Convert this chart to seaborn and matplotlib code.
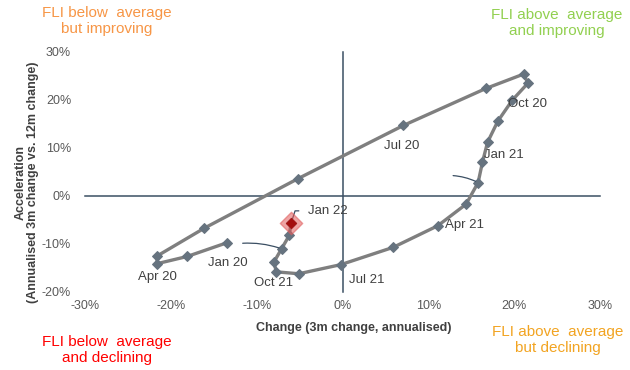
import seaborn as sns
import matplotlib.pyplot as plt
import matplotlib.ticker as ticker
import pandas as pd

months = ['Jan 20', 'Feb 20', 'Mar 20', 'Apr 20', 'May 20', 'Jun 20', 'Jul 20', 'Aug 20',
          'Sep 20', 'Oct 20', 'Nov 20', 'Dec 20', 'Jan 21', 'Feb 21', 'Mar 21', 'Apr 21',
          'May 21', 'Jun 21', 'Jul 21', 'Aug 21', 'Sep 21', 'Oct 21', 'Nov 21', 'Dec 21', 'Jan 22']
change = [-13.4, -18.1, -21.6, -21.6, -16.1, -5.2, 7.1, 16.7, 21.1, 21.6, 19.8, 18.1, 16.9,
          16.3, 15.8, 14.4, 11.1, 5.9, -0.2, -5.1, -7.7, -8.0, -7.1, -6.2, -6.0]
accel = [-9.7, -12.6, -14.1, -12.5, -6.7, 3.6, 14.7, 22.4, 25.4, 23.5, 20.0, 15.6, 11.2,
         7.0, 2.8, -1.7, -6.2, -10.7, -14.3, -16.2, -15.8, -13.8, -11.0, -8.2, -5.7]

x_ticks = [-30, -20, -10, 0, 10, 20, 30]
y_ticks = [-20, -10, 0, 10, 20, 30]

# labelled months and their label offsets (points)
label_offsets = {
    'Jan 20': (0, -15), 'Apr 20': (0, -15), 'Jul 20': (-1, -15), 'Oct 20': (0, -15),
    'Jan 21': (12, -9), 'Apr 21': (-1, -15), 'Jul 21': (19, -11), 'Oct 21': (0, -15),
}

data = pd.DataFrame({'month': months, 'change': change, 'accel': accel})

sns.set_style("white")
plt.rcParams['font.family'] = ['Liberation Sans', 'DejaVu Sans']

axis_col = '#3b4f63'
text_col = '#404040'

fig = plt.figure(figsize=(6.3, 3.7), dpi=100)
ax = fig.add_axes([85 / 630, 78 / 370, 515 / 630, 240 / 370])

sns.lineplot(data=data, x='change', y='accel', sort=False, estimator=None, ax=ax,
             color='#7f7f7f', linewidth=2.4, marker='D', markersize=5.5,
             markerfacecolor='#66737f', markeredgecolor='#66737f', zorder=3)

last = data.iloc[[-1]]
sns.scatterplot(data=last, x='change', y='accel', marker='D', s=130, color='#e05a5a',
                alpha=0.55, edgecolor='#e05a5a', linewidth=1, ax=ax, zorder=4)
sns.scatterplot(data=last, x='change', y='accel', marker='D', s=30, color='#a30f0f',
                edgecolor='#a30f0f', ax=ax, zorder=5)

ax.set_xlim(-30, 30)
ax.set_ylim(-20, 30)
ax.set_xlabel("")
ax.set_ylabel("")

# cross axes through the origin
for s in ['top', 'right']:
    ax.spines[s].set_visible(False)
for s in ['left', 'bottom']:
    ax.spines[s].set_position(('data', 0))
    ax.spines[s].set_color(axis_col)
    ax.spines[s].set_linewidth(1.1)
ax.set_xticks(x_ticks)
ax.set_yticks(y_ticks)
ax.tick_params(direction='out', length=4, width=1, color=axis_col,
               labelleft=False, labelbottom=False)

# tick labels along the outer edges
fmt = ticker.FuncFormatter(lambda v, p: "{:.0f}%".format(v))
sec_x = ax.secondary_xaxis('bottom')
sec_x.set_xticks(x_ticks)
sec_x.xaxis.set_major_formatter(fmt)
sec_x.tick_params(length=0, pad=6, labelsize=9, labelcolor='#595959')
sec_x.spines['bottom'].set_visible(False)
sec_y = ax.secondary_yaxis('left')
sec_y.set_yticks(y_ticks)
sec_y.yaxis.set_major_formatter(fmt)
sec_y.tick_params(length=0, pad=10, labelsize=9, labelcolor='#595959')
sec_y.spines['left'].set_visible(False)

# data labels
for m, off in label_offsets.items():
    i = months.index(m)
    ax.annotate(m, xy=(change[i], accel[i]), xytext=off, textcoords='offset points',
                ha='center', va='center', fontsize=9.5, color=text_col)

ax.annotate('Jan 22', xy=(change[-1], accel[-1]), xytext=(12, 9), textcoords='offset points',
            ha='left', va='center', fontsize=9.5, color=text_col,
            arrowprops=dict(arrowstyle='-', color=axis_col, lw=0.9, relpos=(0, 0.5),
                            connectionstyle='angle,angleA=0,angleB=72,rad=0',
                            shrinkA=4, shrinkB=3))

# leader lines without labels
for m, off in [('Mar 21', (-18, 5)), ('Nov 21', (-28, 4))]:
    i = months.index(m)
    ax.annotate('', xy=(change[i], accel[i]), xytext=off, textcoords='offset points',
                arrowprops=dict(arrowstyle='-', color=axis_col, lw=0.9, shrinkA=0, shrinkB=2,
                                connectionstyle='arc3,rad=-0.1'))

# axis titles
fig.text(354 / 630, 1 - 328 / 370, 'Change (3m change, annualised)', ha='center', va='center',
         fontsize=9, fontweight='bold', color=text_col)
fig.text(27 / 630, 1 - 182 / 370, 'Acceleration\n(Annualised 3m change vs. 12m change)',
         ha='center', va='center', rotation=90, fontsize=9, fontweight='bold', color=text_col,
         linespacing=1.1)

# quadrant captions
fig.text(107 / 630, 1 - 21 / 370, 'FLI below  average\nbut improving', ha='center', va='center',
         fontsize=11, color='#f79646', linespacing=1.15)
fig.text(557 / 630, 1 - 23 / 370, 'FLI above  average\nand improving', ha='center', va='center',
         fontsize=11, color='#92d050', linespacing=1.15)
fig.text(107 / 630, 1 - 350 / 370, 'FLI below  average\nand declining', ha='center', va='center',
         fontsize=11, color='#ff0000', linespacing=1.15)
fig.text(558 / 630, 1 - 340 / 370, 'FLI above  average\nbut declining', ha='center', va='center',
         fontsize=11, color='#f2a422', linespacing=1.15)

plt.savefig('out.png', dpi=100)
